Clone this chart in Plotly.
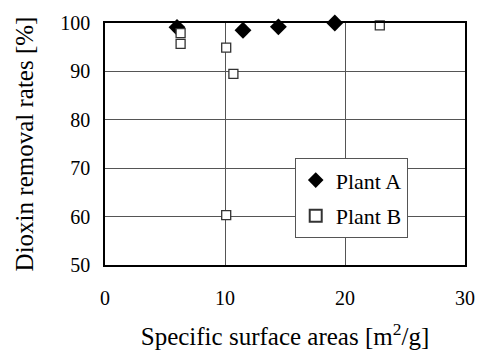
import plotly.graph_objects as go

plant_a_x = [6.0, 11.5, 14.45, 19.15]
plant_a_y = [99.1, 98.5, 99.2, 100.0]
plant_b_x = [6.3, 6.3, 10.1, 10.7, 22.9, 10.1]
plant_b_y = [97.9, 95.7, 94.9, 89.5, 99.5, 60.3]
x_ticks = [0, 10, 20, 30]
y_ticks = [50, 60, 70, 80, 90, 100]

font = "Liberation Serif, Times New Roman, serif"

fig = go.Figure()
fig.add_trace(go.Scatter(x=plant_a_x, y=plant_a_y, mode="markers", name="Plant A",
                         legendgroup="a",
                         marker=dict(symbol="diamond", size=13, color="black",
                                     line=dict(width=0)), cliponaxis=False))
fig.add_trace(go.Scatter(x=plant_b_x, y=plant_b_y, mode="markers", name="Plant B",
                         legendgroup="b",
                         marker=dict(symbol="square", size=9, color="white",
                                     line=dict(width=1.3, color="#333333")),
                         cliponaxis=False))

fig.update_layout(
    width=487, height=358,
    margin=dict(l=105, r=14, t=18, b=91),
    paper_bgcolor="white", plot_bgcolor="white",
    font=dict(family=font, size=20, color="black"),
    showlegend=True,
    legend=dict(x=0.527, y=0.441, xanchor="left", yanchor="top",
                bgcolor="white", bordercolor="#555555", borderwidth=1,
                font=dict(family=font, size=22), itemsizing="constant", tracegroupgap=4,
                itemwidth=30),
    xaxis=dict(range=[0, 30], tickvals=x_ticks, showgrid=True, gridcolor="#555555",
               gridwidth=1, showline=True, linecolor="black", linewidth=1.5, mirror=True,
               ticks="", zeroline=False, ticklabelstandoff=14,
               tickfont=dict(family=font, size=20),
               title=dict(text="Specific surface areas [m<sup>2</sup>/g]", standoff=20,
                          font=dict(family=font, size=25))),
    yaxis=dict(range=[50, 100], tickvals=y_ticks, showgrid=True, gridcolor="#555555",
               gridwidth=1, showline=True, linecolor="black", linewidth=1.5, mirror=True,
               ticks="", zeroline=False, ticklabelstandoff=9,
               tickfont=dict(family=font, size=20),
               title=dict(text="Dioxin removal rates [%]", standoff=20,
                          font=dict(family=font, size=25))),
)

fig.write_html("out.html", post_script="document.body.style.margin='0';",
               config={"displayModeBar": False})
